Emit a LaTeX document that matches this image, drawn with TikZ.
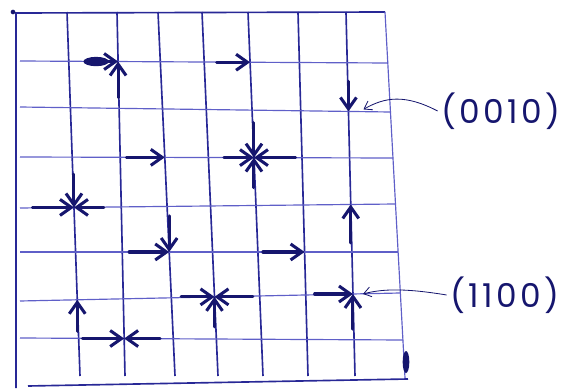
\documentclass[tikz,border=0pt]{standalone}
\usepackage{fontspec}
\newfontfamily\handfont{Poppins}[LetterSpace=10]
\usetikzlibrary{arrows.meta, calc}

\definecolor{ink}{RGB}{22,22,110}
\definecolor{penline}{RGB}{40,40,150}
\definecolor{faintline}{RGB}{95,95,200}

\begin{document}
\begin{tikzpicture}[
  x=0.03cm, y=-0.03cm,
  gridv/.style={draw=penline, line width=1.4pt},
  gridh/.style={draw=faintline, line width=1pt},
  flow/.style={-{Straight Barb[length=3.4mm,width=4.8mm]}, line width=2.6pt, draw=ink, line cap=round},
  pointer/.style={-{Straight Barb[length=2.2mm,width=3mm]}, line width=0.7pt, draw=ink},
  codelabel/.style={font=\handfont\fontsize{28}{30}\selectfont, text=ink}
]
\useasboundingbox (0,0) rectangle (577,392);

% Ends of the hand drawn lines
\foreach \c/\xt/\xb in {1/67/80, 2/117/125, 3/158/175, 4/202/218, 5/248/263, 6/298/308, 7/346/355} {
  \coordinate (vt\c) at (\xt,12);
  \coordinate (vb\c) at (\xb,376);
}
\foreach \r/\yl/\yr/\xr in {1/61/63/388, 2/107/112/390, 3/157/158/393, 4/208/204/395, 5/252/252/398, 6/301/293/400, 7/338/340/403} {
  \coordinate (hl\r) at (20,\yl);
  \coordinate (hr\r) at (\xr,\yr);
}

% Lattice points
\foreach \c in {1,...,7} {
  \foreach \r in {1,...,7} {
    \coordinate (p\c\r) at (intersection cs: first line={(vt\c)--(vb\c)}, second line={(hl\r)--(hr\r)});
  }
}

% Grid
\foreach \c in {1,...,7}
  \draw[gridv] (vt\c) -- (vb\c);
\foreach \r in {1,...,7}
  \draw[gridh] (hl\r) -- (hr\r);

% Border
\draw[gridv] (385,12) -- (16,13) -- (16,388) (28,386) -- (408,379);
\draw[gridh] (385,12) -- (405,378);
\fill[ink] (13,12) circle (0.07cm);
\fill[ink] (406,362) ellipse [x radius=0.1cm, y radius=0.33cm];

% Flows into the points
\fill[ink] ([xshift=-0.66cm]p21) ellipse [x radius=0.38cm, y radius=0.14cm];
\draw[flow] ([xshift=-0.95cm]p21) -- (p21);
\draw[flow] ([yshift=-1.08cm]p21) -- (p21);
\draw[flow] ([xshift=-1cm]p51) -- (p51);
\draw[flow] ([yshift=0.9cm]p72) -- (p72);
\draw[flow] ([xshift=-1.15cm]p33) -- (p33);
\draw[flow] ([yshift=1.05cm]p53) -- (p53);
\draw[flow] ([yshift=-0.9cm]p53) -- (p53);
\draw[flow] ([xshift=-0.9cm]p53) -- (p53);
\draw[flow] ([xshift=1.25cm]p53) -- (p53);
\draw[flow] ([yshift=1cm]p14) -- (p14);
\draw[flow] ([xshift=-1.25cm]p14) -- (p14);
\draw[flow] ([xshift=0.9cm]p14) -- (p14);
\draw[flow] ([yshift=1.08cm]p35) -- (p35);
\draw[flow] ([xshift=-1.2cm]p35) -- (p35);
\draw[flow] ([xshift=-1.25cm]p65) -- (p65);
\draw[flow] ([yshift=-1.15cm]p74) -- (p74);
\draw[flow] ([xshift=-1cm]p46) -- (p46);
\draw[flow] ([xshift=1.15cm]p46) -- (p46);
\draw[flow] ([yshift=-0.9cm]p46) -- (p46);
\draw[flow] ([xshift=-1.15cm]p76) -- (p76);
\draw[flow] ([yshift=-1.05cm]p76) -- (p76);
\draw[flow] ([yshift=-0.95cm]p16) -- (p16);
\draw[flow] ([xshift=-1.25cm]p27) -- (p27);
\draw[flow] ([xshift=1.08cm]p27) -- (p27);

% Codes
\node[codelabel] (code0010) at (501,111) {(0010)};
\node[codelabel] (code1100) at (505,295) {(1100)};
\coordinate (tip0010) at ([xshift=0.45cm, yshift=0.06cm]p72);
\coordinate (tip1100) at ([xshift=0.3cm]p76);
\draw[pointer] (code0010.west) .. controls (405,94) and (385,97) .. (tip0010);
\draw[pointer] (code1100.west) .. controls (410,289) and (385,288) .. (tip1100);

\end{tikzpicture}
\end{document}
